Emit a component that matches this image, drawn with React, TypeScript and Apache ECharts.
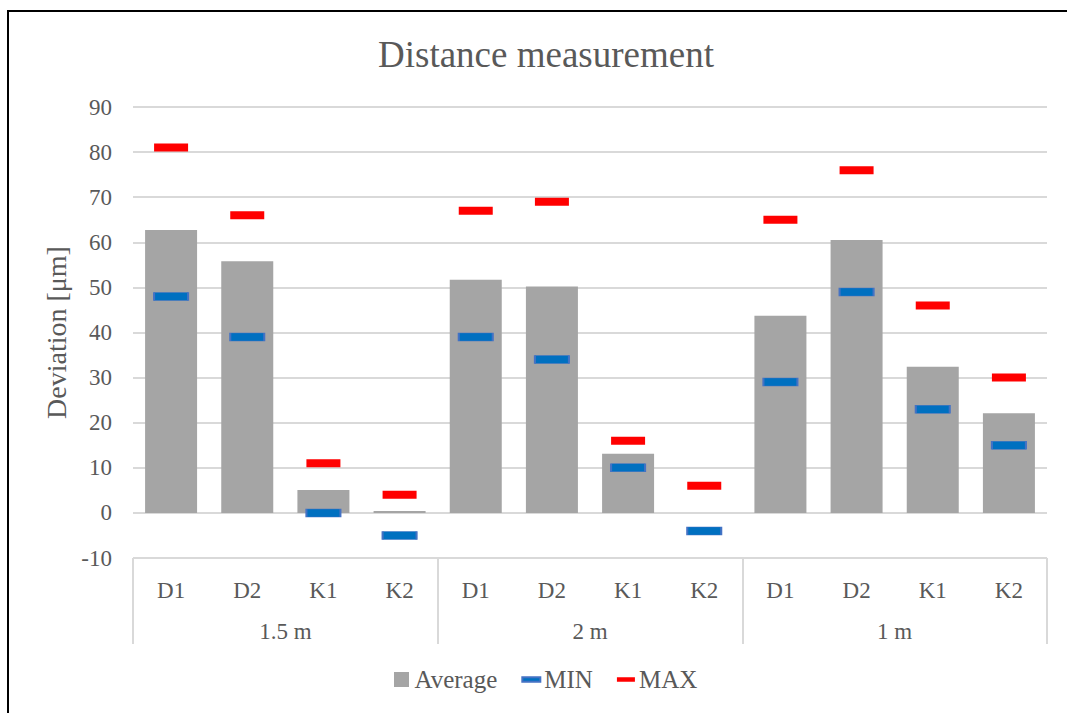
import React, { useEffect, useRef } from "react";
import * as echarts from "echarts";

const categories = ["D1", "D2", "K1", "K2", "D1", "D2", "K1", "K2", "D1", "D2", "K1", "K2"];
const groups = ["1.5 m", "2 m", "1 m"];
const averageValues = [62.7, 55.8, 5.1, 0.4, 51.7, 50.2, 13.1, 0, 43.7, 60.5, 32.4, 22.1];
const minValues = [48, 39, 0, -5, 39, 34, 10, -4, 29, 49, 23, 15];
const maxValues = [81, 66, 11, 4, 67, 69, 16, 6, 65, 76, 46, 30];

const FONT = "'Liberation Serif', 'Times New Roman', serif";
const TEXT = "#595959";

export default function App() {
  const ref = useRef<HTMLDivElement>(null);
  useEffect(() => {
    if (!ref.current) return;
    const chart = echarts.init(ref.current, undefined, { renderer: "svg" });
    chart.setOption({
      animation: false,
      backgroundColor: "#ffffff",
      textStyle: { fontFamily: FONT },
      title: {
        text: "Distance measurement",
        left: 373,
        top: 31,
        textStyle: { fontFamily: FONT, fontSize: 37, fontWeight: "normal", color: TEXT },
      },
      graphic: [
        { type: "line", shape: { x1: 7, y1: 11, x2: 1067, y2: 11 }, style: { stroke: "#000", lineWidth: 2 } },
        { type: "line", shape: { x1: 8, y1: 10, x2: 8, y2: 713 }, style: { stroke: "#000", lineWidth: 2 } },
      ],
      legend: {
        bottom: 16,
        left: 389,
        itemWidth: 18,
        itemHeight: 15,
        itemGap: 24,
        textStyle: { fontFamily: FONT, fontSize: 25, color: TEXT, padding: [0, 0, 0, -1] },
        data: [
          { name: "Average", icon: "path://M0,0H15V15H0Z" },
          { name: "MIN", icon: "path://M0,0H18V4.5H0Z" },
          { name: "MAX", icon: "path://M0,0H18V4.5H0Z" },
        ],
      },
      grid: { left: 133, right: 20, top: 107, bottom: 155, containLabel: false },
      xAxis: [
        {
          type: "category",
          data: categories,
          position: "bottom",
          axisLine: { show: false },
          axisTick: { show: false },
          axisLabel: { fontFamily: FONT, fontSize: 23, color: TEXT, margin: 21, interval: 0 },
        },
        {
          type: "category",
          data: groups,
          position: "bottom",
          axisLine: { show: false },
          axisTick: { show: true, length: 86, lineStyle: { color: "#d9d9d9", width: 2 } },
          axisLabel: { fontFamily: FONT, fontSize: 23, color: TEXT, margin: 62 },
          splitLine: { show: false },
        },
      ],
      yAxis: {
        type: "value",
        min: -10,
        max: 90,
        interval: 10,
        name: "Deviation [μm]",
        nameLocation: "middle",
        nameGap: 63,
        nameTextStyle: { fontFamily: FONT, fontSize: 28, color: TEXT },
        axisLine: { show: false },
        axisTick: { show: false },
        axisLabel: { fontFamily: FONT, fontSize: 23, color: TEXT, margin: 21 },
        splitLine: { lineStyle: { color: "#d9d9d9", width: 2 } },
      },
      series: [
        {
          name: "Average",
          type: "bar",
          data: averageValues,
          barWidth: 52,
          itemStyle: { color: "#a5a5a5" },
        },
        {
          name: "MIN",
          type: "scatter",
          data: minValues,
          symbol: "rect",
          symbolSize: [34, 8],
          itemStyle: { color: "#0070c0", borderColor: "#4472c4", borderWidth: 1, opacity: 1 },
          z: 3,
        },
        {
          name: "MAX",
          type: "scatter",
          data: maxValues,
          symbol: "rect",
          symbolSize: [34, 8],
          itemStyle: { color: "#ff0000", opacity: 1 },
          z: 3,
        },
      ],
    });
    return () => chart.dispose();
  }, []);
  return (
    <div
      ref={ref}
      style={{ position: "fixed", left: 0, top: 0, width: 1067, height: 713 }}
    />
  );
}
